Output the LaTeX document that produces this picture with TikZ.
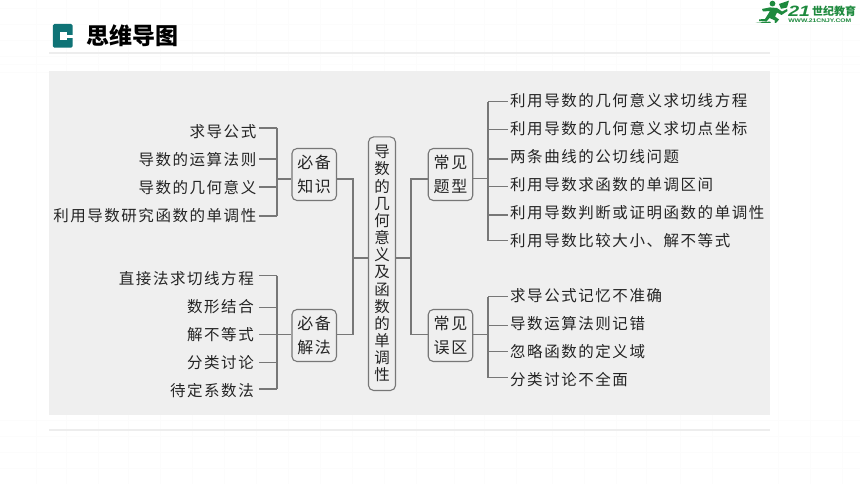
\documentclass[tikz,border=0pt]{standalone}
\usepackage{fontspec}
\setmainfont{Liberation Sans}
\newfontfamily\cjk[LetterSpace=10]{Noto Sans CJK SC}
\newfontfamily\cjkplain{Noto Sans CJK SC}
\definecolor{panel}{HTML}{EFEFEF}
\definecolor{rulec}{HTML}{EDEDED}
\definecolor{linec}{HTML}{777777}
\definecolor{inkc}{HTML}{242424}
\definecolor{tealc}{HTML}{0F7376}
\definecolor{logoc}{HTML}{1E8A3E}
\definecolor{gridc}{HTML}{FCFCFC}
\newcommand\lowr[1]{\raisebox{-1pt}{#1}}
\tikzset{
  leafr/.style={anchor=east,inner xsep=2.5pt,inner ysep=0pt,text=inkc,font=\cjk\fontsize{15.5}{18}\selectfont},
  leafl/.style={anchor=west,inner xsep=2.5pt,inner ysep=0pt,text=inkc,font=\cjk\fontsize{15.5}{18}\selectfont},
  groupbox/.style={draw=linec,line width=1.1pt,rounded corners=5pt,fill=panel,minimum width=44.5pt,minimum height=52pt,inner sep=0pt,align=center,text=inkc,font=\cjk\fontsize{16}{24}\selectfont},
  rootbox/.style={draw=linec,line width=1.1pt,rounded corners=5pt,fill=panel,minimum width=27pt,minimum height=253.5pt,inner sep=0pt,align=center,text=inkc,font=\cjkplain\fontsize{15.5}{17.15}\selectfont},
  conn/.style={draw=linec,line width=1.1pt,line cap=butt},
  rulel/.style={draw=rulec,line width=1.2pt}
}
\begin{document}
\begin{tikzpicture}[x=1pt,y=-1pt]
\path[use as bounding box,fill=white] (0,0) rectangle (860,484);
% faint page grid
\foreach \gx in {36,66,98,128,160,192,224,256,288,320,352,384,416,454,484,516,552,584,616,646,680,712,778,810,842}
  \draw[gridc,line width=0.5pt] (\gx,0) -- (\gx,484);
\foreach \gy in {8,24,40,56,64,72,420,436,452,468}
  \draw[gridc,line width=0.5pt] (0,\gy) -- (860,\gy);
% page furniture
\draw[rulel] (49,53) -- (770,53);
\draw[rulel] (49,430) -- (770,430);
\fill[panel] (49,71) rectangle (770,414.7);
% title
\fill[tealc,rounded corners=1.5pt] (52.8,24) rectangle (72.7,47.7);
\fill[white] (60,32.3) rectangle (67.3,40);
\fill[white] (67,35) rectangle (72.7,37.6);
\node[anchor=west,inner sep=0pt,font=\cjkplain\bfseries\fontsize{23}{23}\selectfont,text=black] (title) at (86,36) {思维导图};
% logo
\fill[logoc] (755.5,22.6) -- (770,21.6) -- (771,23) -- cycle;
\fill[logoc] (772.5,3.6) circle (2.9);
\fill[logoc] (762,9) -- (770,7.4) -- (777,8) -- (782,11.5) -- (787,9) -- (787.5,11) -- (781.5,15) -- (777,12.5) -- (775,16.5) -- (779,19.5) -- (776,23) -- (774.5,22.6) -- (775,20.5) -- (769.5,18) -- (766.5,21.6) -- (759,21) -- (759,19.4) -- (765,19) -- (770,11) -- (763,11.5) -- cycle;
\fill[logoc] (779,4) -- (789,0.6) -- (787,7.5) -- (781,8.8) -- cycle;
\node[anchor=west,inner sep=0pt,text=logoc,font=\bfseries\itshape\fontsize{15}{15}\selectfont,xscale=1.3] (logoa) at (788,11.5) {21};
\node[anchor=west,inner sep=0pt,text=logoc,font=\cjkplain\bfseries\fontsize{11}{11}\selectfont] (logob) at (812,11) {世纪教育};
\node[anchor=west,inner sep=0pt,text=logoc,font=\bfseries\fontsize{5.2}{5.2}\selectfont,xscale=1.3] (logow) at (788,21) {WWW.21CNJY.COM};
% boxes
\node[rootbox] (root) at (382,263.7) {导\\数\\的\\几\\何\\意\\义\\及\\函\\数\\的\\单\\调\\性};
\node[groupbox] (know) at (314.2,174.5) {\lowr{必备}\\\lowr{知识}};
\node[groupbox] (meth) at (314.2,335.5) {\lowr{必备}\\\lowr{解法}};
\node[groupbox] (type) at (450.5,174.5) {\lowr{常见}\\\lowr{题型}};
\node[groupbox] (err)  at (450.5,335.5) {\lowr{常见}\\\lowr{误区}};
% left leaves
\node[leafr] (a1) at (259,132) {求导公式};
\node[leafr] (a2) at (259,160) {导数的运算法则};
\node[leafr] (a3) at (259,188) {导数的几何意义};
\node[leafr] (a4) at (259,216) {利用导数研究函数的单调性};
\node[leafr] (b1) at (256.5,279) {直接法求切线方程};
\node[leafr] (b2) at (256.5,307) {数形结合};
\node[leafr] (b3) at (256.5,335) {解不等式};
\node[leafr] (b4) at (256.5,363) {分类讨论};
\node[leafr] (b5) at (256.5,391) {待定系数法};
% right leaves
\node[leafl] (c1) at (507.5,101) {利用导数的几何意义求切线方程};
\node[leafl] (c2) at (507.5,129) {利用导数的几何意义求切点坐标};
\node[leafl] (c3) at (507.5,157) {两条曲线的公切线问题};
\node[leafl] (c4) at (507.5,185) {利用导数求函数的单调区间};
\node[leafl] (c5) at (507.5,213) {利用导数判断或证明函数的单调性};
\node[leafl] (c6) at (507.5,241) {利用导数比较大小、解不等式};
\node[leafl] (d1) at (507.5,296) {求导公式记忆不准确};
\node[leafl] (d2) at (507.5,324) {导数运算法则记错};
\node[leafl] (d3) at (507.5,352) {忽略函数的定义域};
\node[leafl] (d4) at (507.5,380) {分类讨论不全面};
% junction coordinates
\coordinate (sa1) at (277,128);
\coordinate (sa2) at (277,159);
\coordinate (sa3) at (277,187);
\coordinate (sa4) at (277,216);
\coordinate (ja) at (277,179);
\coordinate (sb1) at (277,275.7);
\coordinate (sb2) at (277,307.7);
\coordinate (sb3) at (277,334.3);
\coordinate (sb4) at (277,362.3);
\coordinate (sb5) at (277,389);
\coordinate (sc1) at (488,101.7);
\coordinate (sc2) at (488,129.3);
\coordinate (sc3) at (488,159);
\coordinate (sc4) at (488,186.7);
\coordinate (sc5) at (488,215);
\coordinate (sc6) at (488,240.5);
\coordinate (jc) at (488,178.7);
\coordinate (sd1) at (488,296.7);
\coordinate (sd2) at (488,325.7);
\coordinate (sd3) at (488,351.7);
\coordinate (sd4) at (488,377.7);
\coordinate (jd) at (488,334.3);
\coordinate (lt) at (353,179);
\coordinate (lb) at (353,334.3);
\coordinate (lm) at (353,258);
\coordinate (rt) at (411,179);
\coordinate (rb) at (411,334.3);
\coordinate (rm) at (411,258);
% connectors, left
\draw[conn] (sa1) -- (sa4);
\draw[conn] (a1.east |- sa1) -- (sa1);
\draw[conn] (a2.east |- sa2) -- (sa2);
\draw[conn] (a3.east |- sa3) -- (sa3);
\draw[conn] (a4.east |- sa4) -- (sa4);
\draw[conn] (ja) -- (know.west |- ja);
\draw[conn] (sb1) -- (sb5);
\draw[conn] (a1.east |- sb1) -- (sb1);
\draw[conn] (a1.east |- sb2) -- (sb2);
\draw[conn] (a1.east |- sb3) -- (sb3);
\draw[conn] (a1.east |- sb4) -- (sb4);
\draw[conn] (a1.east |- sb5) -- (sb5);
\draw[conn] (sb3) -- (meth.west |- sb3);
% connectors, centre
\draw[conn] (know.east |- lt) -- (lt) -- (lb) -- (meth.east |- lb);
\draw[conn] (lm) -- (root.west |- lm);
\draw[conn] (type.west |- rt) -- (rt) -- (rb) -- (err.west |- rb);
\draw[conn] (root.east |- rm) -- (rm);
% connectors, right
\draw[conn] (type.east |- jc) -- (jc);
\draw[conn] (sc1) -- (sc6);
\draw[conn] (sc1) -- (c1.west |- sc1);
\draw[conn] (sc2) -- (c2.west |- sc2);
\draw[conn] (sc3) -- (c3.west |- sc3);
\draw[conn] (sc4) -- (c4.west |- sc4);
\draw[conn] (sc5) -- (c5.west |- sc5);
\draw[conn] (sc6) -- (c6.west |- sc6);
\draw[conn] (err.east |- jd) -- (jd);
\draw[conn] (sd1) -- (sd4);
\draw[conn] (sd1) -- (d1.west |- sd1);
\draw[conn] (sd2) -- (d2.west |- sd2);
\draw[conn] (sd3) -- (d3.west |- sd3);
\draw[conn] (sd4) -- (d4.west |- sd4);
\end{tikzpicture}
\end{document}
